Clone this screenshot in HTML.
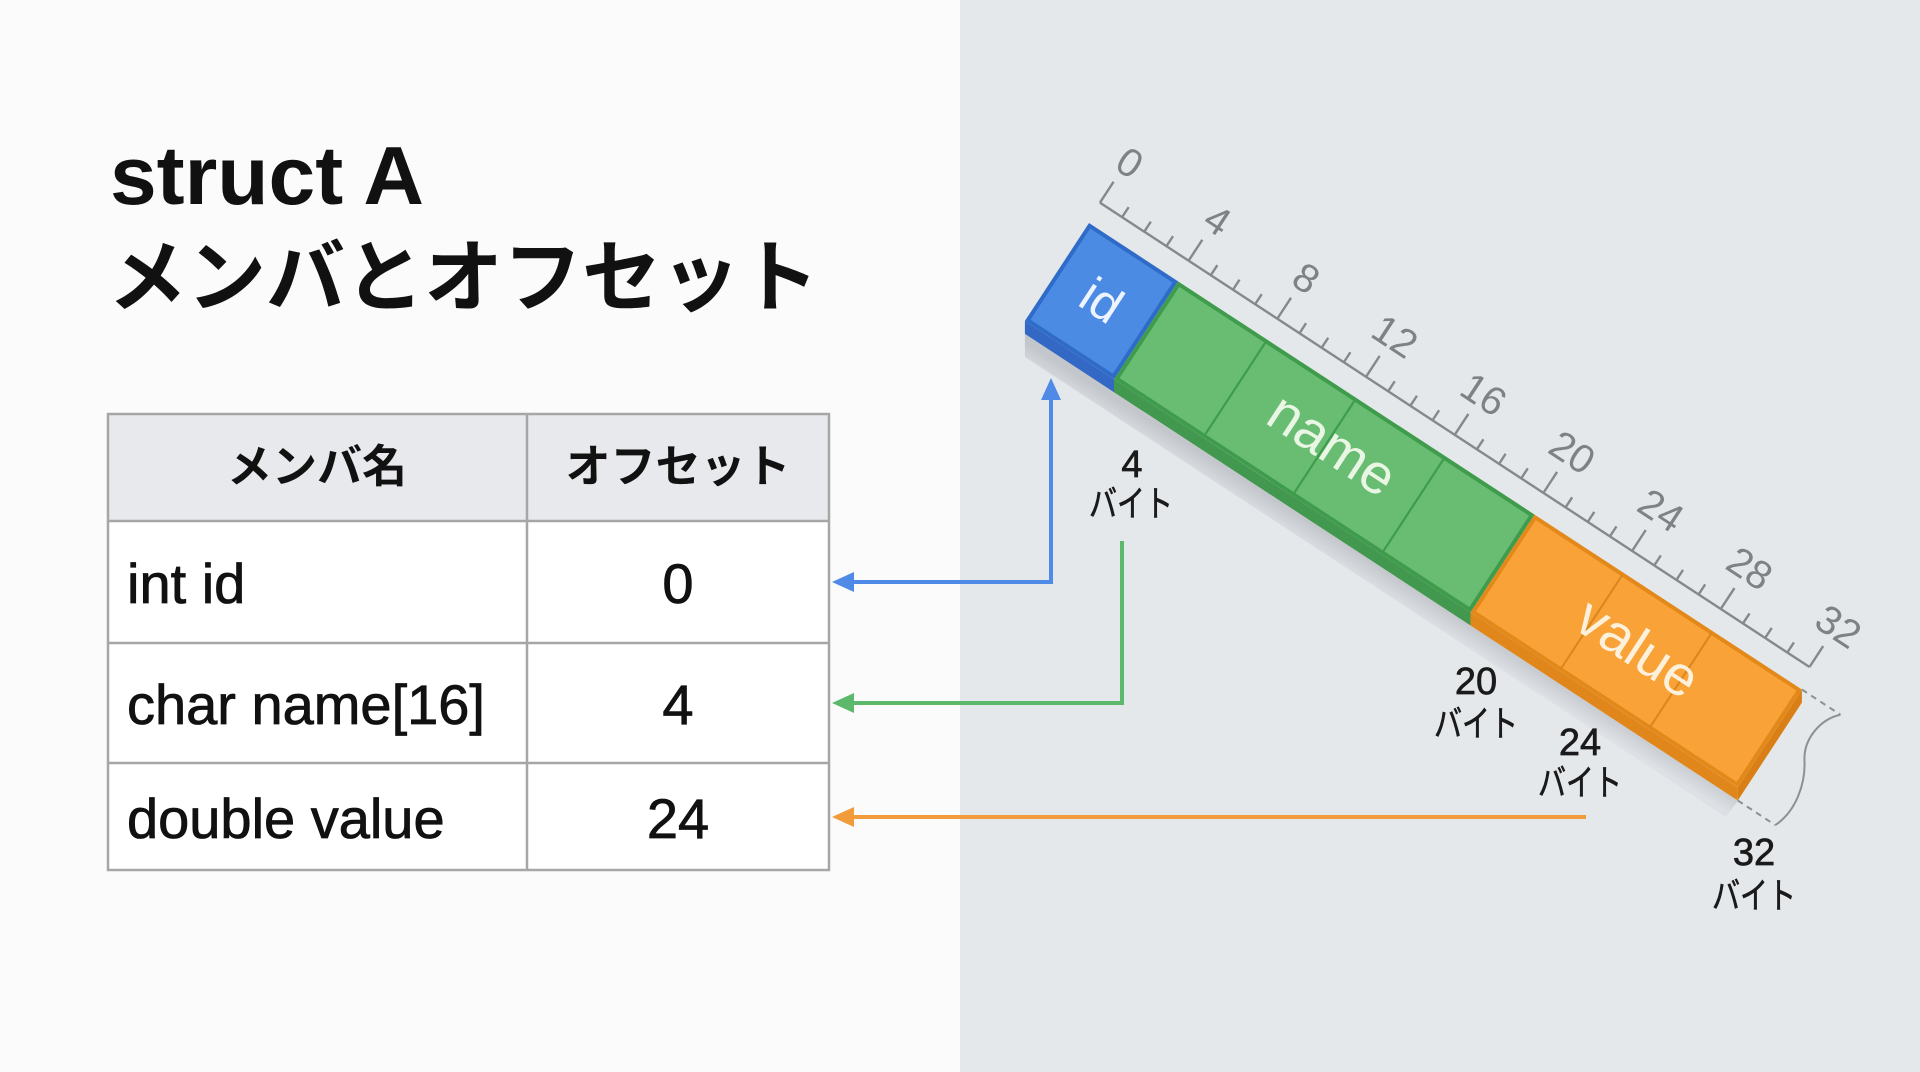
<!DOCTYPE html>
<html><head><meta charset="utf-8">
<style>
html,body{margin:0;padding:0;width:1920px;height:1072px;overflow:hidden;background:#fbfbfb;}
svg{display:block;}
text{font-family:"Liberation Sans","Noto Sans CJK JP",sans-serif;}
</style></head>
<body>
<svg width="1920" height="1072" viewBox="0 0 1920 1072" xmlns="http://www.w3.org/2000/svg">
<defs>
<linearGradient id="sh" gradientUnits="userSpaceOnUse" x1="1381" y1="567" x2="1369" y2="586">
<stop offset="0" stop-color="#c3c7cc"/><stop offset="1" stop-color="#dde0e4"/>
</linearGradient>
</defs>
<rect x="0" y="0" width="960" height="1072" fill="#fbfbfb"/>
<rect x="960" y="0" width="960" height="1072" fill="#e5e8eb"/>

<!-- Title -->
<text x="110" y="204" font-size="83" font-weight="bold" fill="#111" textLength="314" lengthAdjust="spacingAndGlyphs">struct A</text>
<text x="108" y="305" font-size="79" font-weight="bold" fill="#111">メンバとオフセット</text>

<!-- Table -->
<rect x="108" y="414" width="721" height="107" fill="#e7e9ec"/>
<rect x="108" y="521" width="721" height="349" fill="#ffffff"/>
<g stroke="#a6a6a6" stroke-width="2.5" fill="none">
<rect x="108" y="414" width="721" height="456"/>
<line x1="108" y1="521" x2="829" y2="521"/>
<line x1="108" y1="643" x2="829" y2="643"/>
<line x1="108" y1="763" x2="829" y2="763"/>
<line x1="527" y1="414" x2="527" y2="870"/>
</g>
<text x="317" y="482" font-size="45" font-weight="bold" fill="#111" text-anchor="middle">メンバ名</text>
<text x="678" y="482" font-size="45" font-weight="bold" fill="#111" text-anchor="middle">オフセット</text>
<g font-size="56" fill="#111" stroke="#111" stroke-width="0.8">
<text x="127" y="603">int id</text>
<text x="127" y="724">char name[16]</text>
<text x="127" y="838">double value</text>
<text x="678" y="603" text-anchor="middle">0</text>
<text x="678" y="724" text-anchor="middle">4</text>
<text x="678" y="838" text-anchor="middle">24</text>
</g>

<!-- Shadow under bar -->
<polygon points="1024.9,333.9 1737.8,800.5 1726,817 1024.9,357" fill="url(#sh)"/>
<!-- Side faces -->
<polygon points="1024.9,320.9 1114,379.2 1114,392.2 1024.9,333.9" fill="#3369c4"/>
<polygon points="1114,379.2 1470.5,612.5 1470.5,625.5 1114,392.2" fill="#43984f"/>
<polygon points="1470.5,612.5 1737.8,787.5 1737.8,800.5 1470.5,625.5" fill="#e0861a"/>
<polygon points="1801.9,689.6 1737.8,787.5 1737.8,800.5 1801.9,702.6" fill="#d97f16"/>

<!-- Bar top face + ruler (rotated) -->
<g transform="translate(1089,223) rotate(33.2)">
<rect x="2" y="2" width="102.5" height="113" fill="#4b8be4" stroke="#2f6bc8" stroke-width="4"/>
<rect x="108.5" y="2" width="422" height="113" fill="#68bd73" stroke="#3f9c4c" stroke-width="4"/>
<rect x="534.5" y="2" width="315.5" height="113" fill="#f9a238" stroke="#e3891a" stroke-width="4"/>
<g stroke="#3f9c4c" stroke-width="2.2">
<line x1="213" y1="2" x2="213" y2="115"/>
<line x1="319.5" y1="2" x2="319.5" y2="115"/>
<line x1="426" y1="2" x2="426" y2="115"/>
</g>
<g stroke="#d9861d" stroke-width="2">
<line x1="639" y1="2" x2="639" y2="115"/>
<line x1="745.5" y1="2" x2="745.5" y2="115"/>
</g>
<text x="53" y="75" font-size="50" fill="#eef4ff" text-anchor="middle">id</text>
<text x="325" y="71" font-size="56" fill="#eaf6e4" text-anchor="middle">name</text>
<text x="692" y="74" font-size="56" fill="#fdf1dc" text-anchor="middle">value</text>

<!-- ruler -->
<g stroke="#85888c" stroke-width="2.4" fill="none">
<line x1="-2" y1="-23" x2="846" y2="-23"/>
<path d="M-2,-23v-25 M24.5,-23v-12 M51,-23v-12 M77.5,-23v-12 M104,-23v-25 M130.5,-23v-12 M157,-23v-12 M183.5,-23v-12 M210,-23v-25 M236.5,-23v-12 M263,-23v-12 M289.5,-23v-12 M316,-23v-25 M342.5,-23v-12 M369,-23v-12 M395.5,-23v-12 M422,-23v-25 M448.5,-23v-12 M475,-23v-12 M501.5,-23v-12 M528,-23v-25 M554.5,-23v-12 M581,-23v-12 M607.5,-23v-12 M634,-23v-25 M660.5,-23v-12 M687,-23v-12 M713.5,-23v-12 M740,-23v-25 M766.5,-23v-12 M793,-23v-12 M819.5,-23v-12 M846,-23v-25"/>
</g>
<g font-size="40" fill="#7e8185" text-anchor="middle">
<text x="1" y="-59">0</text>
<text x="106" y="-59">4</text>
<text x="212" y="-59">8</text>
<text x="318" y="-59">12</text>
<text x="424" y="-59">16</text>
<text x="530" y="-59">20</text>
<text x="636" y="-59">24</text>
<text x="742" y="-59">28</text>
<text x="848" y="-59">32</text>
</g>

<!-- end dimension -->
<g stroke="#8c8f93" stroke-width="2" fill="none">
<line x1="852" y1="0" x2="898" y2="0" stroke-dasharray="6 5"/>
<line x1="859" y1="128" x2="904" y2="128" stroke-dasharray="6 5"/>
<path d="M898,0 C884,14 880,40 893,58 C906,76 914,104 904,128"/>
</g>
</g>

<!-- byte labels -->
<g fill="#1a1a1a" stroke="#1a1a1a" stroke-width="0.7" text-anchor="middle">
<text x="1132" y="477" font-size="38">4</text>
<text x="1131" y="516" font-size="36" textLength="84" lengthAdjust="spacingAndGlyphs">バイト</text>
<text x="1476" y="694" font-size="38">20</text>
<text x="1476" y="736" font-size="36" textLength="84" lengthAdjust="spacingAndGlyphs">バイト</text>
<text x="1580" y="755" font-size="38">24</text>
<text x="1580" y="795" font-size="36" textLength="84" lengthAdjust="spacingAndGlyphs">バイト</text>
<text x="1754" y="865" font-size="38">32</text>
<text x="1754" y="908" font-size="36" textLength="84" lengthAdjust="spacingAndGlyphs">バイト</text>
</g>

<!-- connectors -->
<g fill="none" stroke-width="4">
<path d="M852,582 H1051 V398" stroke="#4f8be6"/>
<path d="M1122,541 V703 H852" stroke="#5cb86a"/>
<path d="M1586,817 H852" stroke="#f29b3a"/>
</g>
<polygon points="1051,378 1041,400 1061,400" fill="#4f8be6"/>
<polygon points="832,582 854,572 854,592" fill="#4f8be6"/>
<polygon points="832,703 854,693 854,713" fill="#5cb86a"/>
<polygon points="832,817 854,807 854,827" fill="#f29b3a"/>
</svg>
</body></html>
